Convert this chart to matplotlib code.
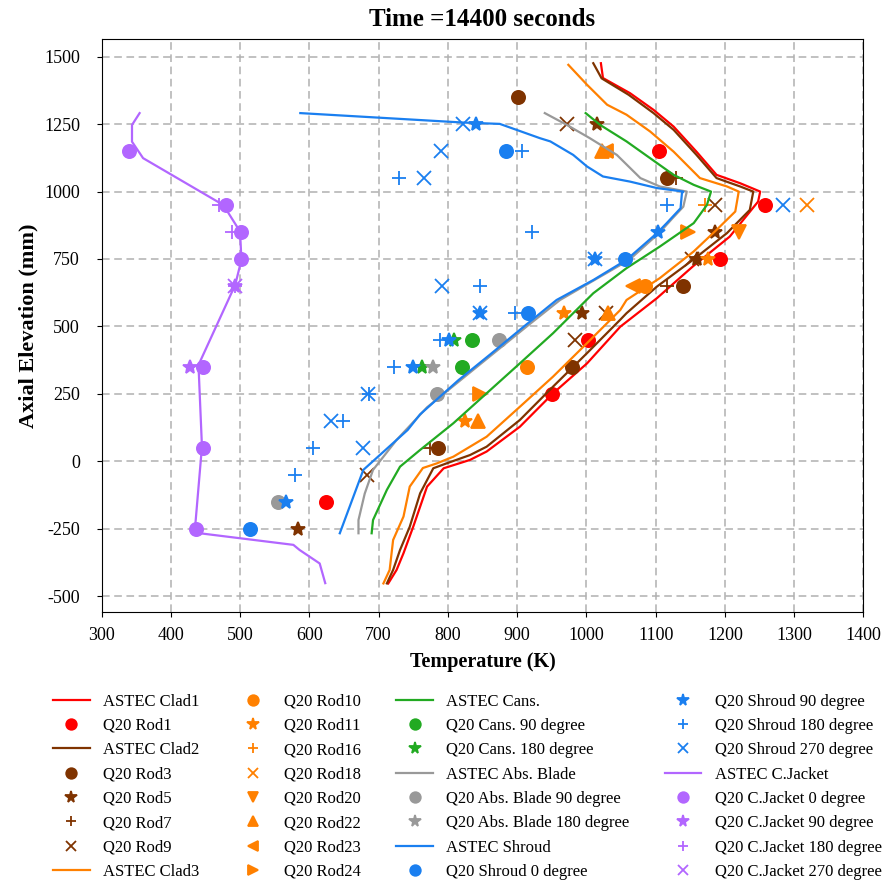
import matplotlib
matplotlib.use("Agg")
import matplotlib.pyplot as plt

plt.rcParams['font.family'] = ['Liberation Serif', 'DejaVu Serif']
plt.rcParams['axes.unicode_minus'] = False

# ---------------- data ----------------
# ASTEC lines: elevation (mm) and temperature (K)
clad1_E = [1476, 1421, 1365, 1303, 1241, 1148, 1062, 1031, 1000, 963, 833, 723, 605, 499, 363, 252, 128, 36, 5, -26, -94, -243, -341, -403, -453]
clad1_T = [1021, 1024, 1063, 1097, 1126, 1159, 1188, 1222, 1251, 1248, 1207, 1154, 1102, 1049, 1001, 952, 904, 856, 832, 794, 770, 750, 736, 726, 714]

clad2_E = [1476, 1420, 1359, 1291, 1229, 1136, 1050, 1019, 1000, 932, 846, 747, 648, 549, 525, 401, 277, 153, 54, 23, -8, -26, -119, -243, -329, -403, -453]
clad2_T = [1010, 1022, 1061, 1097, 1126, 1159, 1188, 1222, 1241, 1236, 1203, 1154, 1102, 1058, 1049, 1001, 952, 904, 856, 832, 798, 779, 760, 745, 731, 721, 712]

clad3_E = [1470, 1396, 1322, 1285, 1223, 1148, 1050, 1019, 1000, 926, 858, 778, 679, 598, 561, 438, 314, 202, 91, 17, -8, -25, -94, -205, -292, -403, -453]
clad3_T = [974, 1001, 1030, 1058, 1092, 1126, 1164, 1203, 1220, 1215, 1188, 1155, 1106, 1058, 1049, 1001, 952, 904, 856, 808, 784, 764, 745, 736, 721, 716, 707]

cans_E = [1291, 1247, 1186, 1124, 1062, 1025, 1000, 950, 883, 796, 716, 623, 475, 363, 252, 141, 42, -20, -106, -218, -267]
cans_T = [999, 1020, 1058, 1092, 1126, 1155, 1180, 1174, 1155, 1106, 1058, 1010, 952, 904, 856, 808, 760, 731, 712, 692, 690]

blade_E = [1291, 1247, 1198, 1136, 1050, 1019, 1000, 944, 900, 846, 747, 598, 500, 400, 300, 200, 79, -32, -120, -218, -267]
blade_T = [940, 972, 1005, 1044, 1078, 1106, 1145, 1140, 1124, 1105, 1062, 962, 914, 866, 818, 770, 726, 692, 680, 671, 671]

shroud_E = [1291, 1256, 1251, 1198, 1186, 1136, 1093, 1056, 1037, 1013, 1000, 994, 938, 883, 846, 747, 672, 598, 500, 400, 300, 174, 116, -32, -267]
shroud_T = [587, 822, 875, 933, 948, 981, 1001, 1024, 1063, 1102, 1140, 1138, 1136, 1116, 1102, 1058, 1010, 957, 910, 863, 815, 760, 742, 678, 644]

jacket_E = [1291, 1247, 1185, 1124, 950, 852, 747, 654, 357, 54, -248, -267, -310, -329, -379, -452]
jacket_T = [355, 344, 344, 360, 476, 500, 502, 493, 440, 445, 435, 442, 577, 586, 615, 623]

# Q20 measurements: elevation (mm), temperature (K)
rod1_E = [1150, 950, 750, 450, 250, -150]
rod1_T = [1105, 1258, 1193, 1003, 951, 624]
rod3_E = [1350, 1050, 650, 350, 50]
rod3_T = [902, 1116, 1140, 980, 786]
rod5_E = [1250, 850, 750, 550, -250]
rod5_T = [1016, 1186, 1160, 993, 584]
rod7_E = [1050, 650, 50]
rod7_T = [1130, 1116, 774]
rod9_E = [1250, 950, 750, 550, 450, -50]
rod9_T = [972, 1186, 1152, 1029, 984, 683]
rod10_E = [650, 350]
rod10_T = [1085, 914]
rod11_E = [750, 550, 150]
rod11_T = [1175, 968, 825]
rod16_E = [950]
rod16_T = [1171]
rod18_E = [950]
rod18_T = [1319]
rod20_E = [850]
rod20_T = [1220]
rod22_E = [1150, 550, 150]
rod22_T = [1022, 1031, 843]
rod23_E = [1150, 650]
rod23_T = [1028, 1068]
rod24_E = [850, 250]
rod24_T = [1147, 847]
cans90_E = [450, 350]
cans90_T = [835, 821]
cans180_E = [450, 350]
cans180_T = [809, 762]
blade90_E = [450, 250, -150]
blade90_T = [874, 784, 555]
blade180_E = [350]
blade180_T = [778]
shr0_E = [1150, 750, 550, -250]
shr0_T = [884, 1056, 916, 514]
shr90_E = [1250, 850, 750, 550, 450, 350, -150]
shr90_T = [841, 1104, 1012, 847, 801, 750, 567]
shr180_E = [1150, 1050, 950, 850, 650, 550, 450, 350, 250, 150, 50, -50]
shr180_T = [907, 730, 1116, 922, 846, 897, 789, 723, 686, 648, 606, 580]
shr270_E = [1250, 1150, 1050, 950, 750, 650, 550, 250, 150, 50]
shr270_T = [822, 790, 766, 1284, 1012, 791, 846, 685, 632, 677]
jk0_E = [1150, 950, 850, 750, 350, 50, -250]
jk0_T = [339, 480, 502, 502, 447, 446, 436]
jk90_E = [650, 350]
jk90_T = [493, 428]
jk180_E = [950, 850, 650]
jk180_T = [469, 488, 493]
jk270_E = [650]
jk270_T = [493]

x_ticks = list(range(300, 1401, 100))
y_ticks = list(range(-500, 1501, 250))

# ---------------- style ----------------
RED = '#ff0000'
BROWN = '#7f3300'
ORANGE = '#ff8000'
GREEN = '#22aa22'
GRAY = '#999999'
BLUE = '#1a7ff0'
PURPLE = '#b266ff'

fig = plt.figure(figsize=(8.89, 8.83), dpi=100)
ax = fig.add_axes([0.1142, 0.3069, 0.857, 0.649])

LW = 1.6
MS = 9.5

def line(T, E, c, lab):
    ax.plot(T, E, '-', color=c, lw=LW, label=lab)

def pts(T, E, c, m, lab, ms=MS, mew=1.3):
    ax.plot(T, E, linestyle='none', marker=m, color=c, ms=ms, mew=mew, label=lab)

line(clad1_T, clad1_E, RED, 'ASTEC Clad1')
pts(rod1_T, rod1_E, RED, 'o', 'Q20 Rod1')
line(clad2_T, clad2_E, BROWN, 'ASTEC Clad2')
pts(rod3_T, rod3_E, BROWN, 'o', 'Q20 Rod3')
pts(rod5_T, rod5_E, BROWN, '*', 'Q20 Rod5', ms=MS + 1)
pts(rod7_T, rod7_E, BROWN, '+', 'Q20 Rod7')
pts(rod9_T, rod9_E, BROWN, 'x', 'Q20 Rod9')
line(clad3_T, clad3_E, ORANGE, 'ASTEC Clad3')
pts(rod10_T, rod10_E, ORANGE, 'o', 'Q20 Rod10')
pts(rod11_T, rod11_E, ORANGE, '*', 'Q20 Rod11', ms=MS + 1)
pts(rod16_T, rod16_E, ORANGE, '+', 'Q20 Rod16')
pts(rod18_T, rod18_E, ORANGE, 'x', 'Q20 Rod18')
pts(rod20_T, rod20_E, ORANGE, 'v', 'Q20 Rod20')
pts(rod22_T, rod22_E, ORANGE, '^', 'Q20 Rod22')
pts(rod23_T, rod23_E, ORANGE, '<', 'Q20 Rod23')
pts(rod24_T, rod24_E, ORANGE, '>', 'Q20 Rod24')
line(cans_T, cans_E, GREEN, 'ASTEC Cans.')
pts(cans90_T, cans90_E, GREEN, 'o', 'Q20 Cans. 90 degree')
pts(cans180_T, cans180_E, GREEN, '*', 'Q20 Cans. 180 degree', ms=MS + 1)
line(blade_T, blade_E, GRAY, 'ASTEC Abs. Blade')
pts(blade90_T, blade90_E, GRAY, 'o', 'Q20 Abs. Blade 90 degree')
pts(blade180_T, blade180_E, GRAY, '*', 'Q20 Abs. Blade 180 degree', ms=MS + 1)
line(shroud_T, shroud_E, BLUE, 'ASTEC Shroud')
pts(shr0_T, shr0_E, BLUE, 'o', 'Q20 Shroud 0 degree')
pts(shr90_T, shr90_E, BLUE, '*', 'Q20 Shroud 90 degree', ms=MS + 1)
pts(shr180_T, shr180_E, BLUE, '+', 'Q20 Shroud 180 degree')
pts(shr270_T, shr270_E, BLUE, 'x', 'Q20 Shroud 270 degree')
line(jacket_T, jacket_E, PURPLE, 'ASTEC C.Jacket')
pts(jk0_T, jk0_E, PURPLE, 'o', 'Q20 C.Jacket 0 degree')
pts(jk90_T, jk90_E, PURPLE, '*', 'Q20 C.Jacket 90 degree', ms=MS + 1)
pts(jk180_T, jk180_E, PURPLE, '+', 'Q20 C.Jacket 180 degree')
pts(jk270_T, jk270_E, PURPLE, 'x', 'Q20 C.Jacket 270 degree')

ax.set_xlim(300, 1400)
ax.set_ylim(-559, 1566)
ax.set_xticks(x_ticks)
ax.set_yticks(y_ticks)
ax.tick_params(axis='both', labelsize=13)
ax.tick_params(axis='y', pad=12)
ax.tick_params(axis='x', pad=7)
ax.grid(True, color='#b0b0b0', linestyle='--', linewidth=1.1, dashes=(5, 3))
ax.set_axisbelow(True)

ax.set_title('Time =14400 seconds', fontsize=18, fontweight='bold', pad=9)
ax.set_xlabel('Temperature (K)', fontsize=14.5, fontweight='bold', labelpad=6)
ax.set_ylabel('Axial Elevation (mm)', fontsize=16, fontweight='bold', labelpad=4)

handles, labels = ax.get_legend_handles_labels()
fig.legend(handles, labels, loc='upper left', bbox_to_anchor=(0.052, 0.222), ncol=4,
           frameon=False, fontsize=12, handlelength=2.2, handletextpad=0.8,
           columnspacing=2.1, labelspacing=0.5, markerscale=0.8, borderaxespad=0.0)

fig.savefig('out.png', dpi=100)
